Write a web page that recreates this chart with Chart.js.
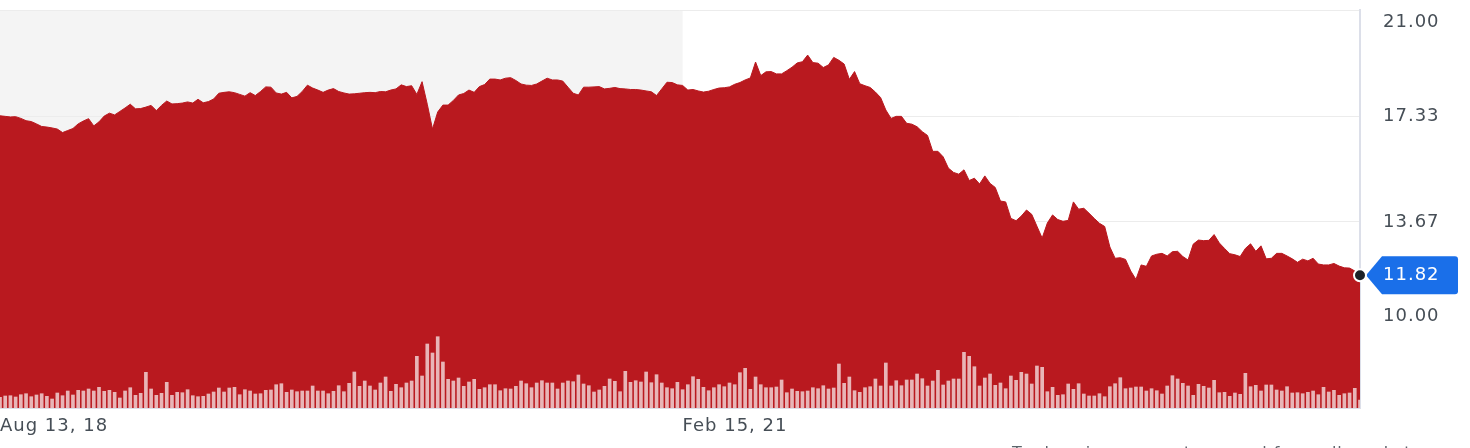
<!DOCTYPE html>
<html>
<head>
<meta charset="utf-8">
<script src="https://cdn.jsdelivr.net/npm/chart.js@4/dist/chart.umd.min.js"></script>
<style>
  html, body { margin: 0; padding: 0; background: #fff; }
  canvas { display: block; }
</style>
</head>
<body>
<canvas id="myChart" width="1470" height="448"></canvas>
<script>
// weekly close prices, Aug 13 2018 -> Aug 14 2023
const price = [
  17.34, 17.32, 17.30, 17.31, 17.25, 17.17, 17.14, 17.06, 16.97, 16.95,
  16.92, 16.88, 16.76, 16.83, 16.90, 17.06, 17.16, 17.24, 16.99, 17.13,
  17.33, 17.43, 17.37, 17.49, 17.61, 17.74, 17.58, 17.59, 17.64, 17.70,
  17.52, 17.70, 17.85, 17.75, 17.76, 17.78, 17.82, 17.78, 17.91, 17.79,
  17.83, 17.92, 18.12, 18.15, 18.17, 18.14, 18.08, 18.02, 18.14, 18.04,
  18.18, 18.34, 18.33, 18.13, 18.09, 18.15, 17.96, 18.01, 18.18, 18.40,
  18.30, 18.23, 18.15, 18.23, 18.28, 18.18, 18.13, 18.09, 18.10, 18.12,
  18.14, 18.15, 18.14, 18.18, 18.17, 18.23, 18.27, 18.41, 18.35, 18.38,
  18.08, 18.52, 17.74, 16.88, 17.47, 17.71, 17.71, 17.87, 18.06, 18.11,
  18.23, 18.15, 18.35, 18.42, 18.61, 18.61, 18.58, 18.64, 18.66, 18.56,
  18.44, 18.40, 18.39, 18.44, 18.54, 18.64, 18.58, 18.58, 18.54, 18.33,
  18.12, 18.06, 18.33, 18.33, 18.34, 18.35, 18.27, 18.29, 18.32, 18.28,
  18.27, 18.25, 18.25, 18.23, 18.20, 18.17, 18.04, 18.27, 18.50, 18.49,
  18.41, 18.39, 18.23, 18.25, 18.20, 18.16, 18.19, 18.25, 18.30, 18.31,
  18.34, 18.43, 18.49, 18.58, 18.65, 19.20, 18.73, 18.86, 18.87, 18.79,
  18.79, 18.90, 19.02, 19.17, 19.21, 19.44, 19.18, 19.16, 19.01, 19.10,
  19.36, 19.26, 19.13, 18.60, 18.87, 18.45, 18.38, 18.32, 18.16, 17.97,
  17.54, 17.25, 17.32, 17.32, 17.08, 17.05, 16.96, 16.79, 16.66, 16.11,
  16.11, 15.92, 15.53, 15.38, 15.32, 15.47, 15.10, 15.18, 14.98, 15.26,
  15.00, 14.86, 14.39, 14.36, 13.79, 13.71, 13.87, 14.08, 13.93, 13.52,
  13.11, 13.63, 13.91, 13.75, 13.69, 13.72, 14.36, 14.11, 14.14, 13.97,
  13.79, 13.62, 13.51, 12.80, 12.41, 12.43, 12.37, 11.97, 11.68, 12.18,
  12.13, 12.49, 12.55, 12.58, 12.49, 12.64, 12.65, 12.47, 12.35, 12.90,
  13.04, 13.02, 13.03, 13.23, 12.94, 12.75, 12.57, 12.53, 12.47, 12.75,
  12.91, 12.65, 12.84, 12.39, 12.41, 12.58, 12.58, 12.49, 12.39, 12.27,
  12.38, 12.32, 12.41, 12.21, 12.18, 12.18, 12.23, 12.14, 12.08, 12.07,
  11.97, 11.82
];

// weekly volume (relative units)
const volume = [
  10.7, 12, 12.3, 11, 13.3, 14.3, 11.3, 13, 14.3, 11.7,
  9, 15, 12.3, 17, 13, 17.7, 17, 19, 17, 20.7,
  16.7, 17.7, 15.7, 10, 17, 20.3, 12.7, 14.7, 35.7, 19,
  12.7, 14.7, 25.7, 12.7, 15.7, 15.3, 18.3, 12.3, 11.3, 11.7,
  14, 16, 20, 16, 20, 20.7, 13.3, 18.3, 17, 14,
  14.3, 17.7, 18, 23.3, 24.3, 15.7, 18, 16.3, 17, 17,
  22, 17, 17, 14.3, 16.7, 22.3, 16.3, 24.7, 36, 21.7,
  27, 22, 18, 25, 31, 16.7, 23.7, 20.3, 25, 27,
  51.7, 32, 64, 55, 71.3, 46, 28.7, 27, 30, 21.7,
  26, 28.7, 18.7, 20.3, 23.3, 23.3, 17.3, 19.3, 19, 21.7,
  27, 24.3, 20.3, 25, 27.3, 25, 25, 19, 25, 27,
  26.3, 33, 24, 22.3, 16, 18, 21.7, 29, 26.7, 16.3,
  36.7, 25.7, 27.3, 26, 36, 25.3, 33.3, 25, 20.3, 19.3,
  25.7, 18.3, 23.3, 31.3, 28.7, 20.7, 17.3, 20.3, 23.3, 21.3,
  25, 23.3, 35.3, 39.7, 18.7, 31, 23.3, 20.3, 20.3, 21,
  28, 15.3, 19, 16.7, 16.3, 17, 20.3, 19.3, 22.3, 19,
  20, 44, 24.7, 31, 17.3, 15.7, 20.3, 21.3, 29, 22,
  45, 22, 27.3, 22.3, 28, 28, 34, 29.3, 22, 27,
  37.7, 23, 27, 29, 29, 55.7, 51.7, 41.3, 22, 30,
  34, 22.7, 25, 19.3, 32, 27.7, 35.7, 34, 24, 42,
  40.7, 16.3, 20.7, 12.7, 13.3, 24, 18.7, 24.3, 14, 12,
  12, 14.3, 11.3, 21.3, 24.3, 30.3, 19.3, 20, 21, 21,
  17, 19.3, 17.3, 14, 22, 32.3, 29, 24.7, 22, 12.7,
  23.7, 21.7, 20, 27.7, 15.3, 15.7, 11.7, 15, 13.7, 34.7,
  21.3, 22.7, 17, 23, 23, 18, 17, 21.3, 15, 15.3,
  14.3, 15.7, 17, 13.3, 20.7, 16, 17.7, 12.7, 14.3, 15,
  19.7, 8
];

const priceTicks = [10, 13.67, 17.33, 21];
const xTickLabels = ['Aug 13, 18', 'Feb 15, 21'];
const shadeEnd = 'Feb 15, 21';
const footnote = 'Trade prices are not sourced from all markets';

const monthNames = ['Jan','Feb','Mar','Apr','May','Jun','Jul','Aug','Sep','Oct','Nov','Dec'];
const firstWeek = new Date(2018, 7, 13);
const weeks = price.map((_, i) => {
  const d = new Date(firstWeek);
  d.setDate(d.getDate() + 7 * i);
  return monthNames[d.getMonth()] + ' ' + d.getDate() + ', ' + String(d.getFullYear()).slice(2);
});

const red = '#b9191f';
const textColor = '#464e56';
const fontFamily = 'DejaVu Sans';

const overlay = {
  id: 'overlay',
  beforeDraw(chart) {
    const { ctx, chartArea: a, scales: { x } } = chart;
    ctx.letterSpacing = '1px';
    ctx.save();
    ctx.fillStyle = '#f4f4f4';
    ctx.fillRect(a.left, a.top, x.getPixelForValue(weeks.indexOf(shadeEnd)) - a.left, a.bottom - a.top);
    ctx.restore();
  },
  afterDraw(chart) {
    const { ctx, chartArea: a, scales: { x, y } } = chart;
    ctx.save();
    ctx.font = '18px "' + fontFamily + '"';
    ctx.textBaseline = 'middle';
    ctx.textAlign = 'left';
    ctx.fillStyle = textColor;
    const n = y.ticks.length;
    y.ticks.forEach((t, i) => {
      let py = y.getPixelForValue(t.value);
      if (i === 0) py -= 12;
      if (i === n - 1) py += 12;
      ctx.fillText(t.value.toFixed(2), a.right + 23, py);
    });

    // last price marker
    const last = price.length - 1;
    const px = x.getPixelForValue(last);
    const py = y.getPixelForValue(price[last]);
    const tipX = px + 6, bodyX = px + 22, right = px + 98, h = 19, r = 3;
    ctx.fillStyle = '#1a6fe9';
    ctx.beginPath();
    ctx.moveTo(tipX, py);
    ctx.lineTo(bodyX, py - h);
    ctx.lineTo(right - r, py - h);
    ctx.quadraticCurveTo(right, py - h, right, py - h + r);
    ctx.lineTo(right, py + h - r);
    ctx.quadraticCurveTo(right, py + h, right - r, py + h);
    ctx.lineTo(bodyX, py + h);
    ctx.closePath();
    ctx.fill();
    ctx.fillStyle = '#fff';
    ctx.fillText(price[last].toFixed(2), a.right + 23, py);

    ctx.beginPath();
    ctx.arc(px, py, 6, 0, Math.PI * 2);
    ctx.fillStyle = '#1d2228';
    ctx.fill();
    ctx.lineWidth = 2;
    ctx.strokeStyle = '#fff';
    ctx.stroke();

    ctx.font = '16px "' + fontFamily + '"';
    ctx.textBaseline = 'top';
    ctx.fillStyle = '#5b636a';
    ctx.fillText(footnote, 1012, 446);
    ctx.restore();
  }
};

Chart.defaults.font.family = fontFamily;

const ctx = document.getElementById('myChart');
const myChart = new Chart(ctx, {
  data: {
    labels: weeks,
    datasets: [
      {
        type: 'bar',
        data: volume,
        yAxisID: 'vol',
        backgroundColor: 'rgba(255,255,255,0.68)',
        borderWidth: 0,
        barThickness: 3,
        order: 0
      },
      {
        type: 'line',
        data: price,
        yAxisID: 'y',
        fill: 'start',
        backgroundColor: red,
        borderColor: red,
        borderWidth: 1,
        pointRadius: 0,
        pointHoverRadius: 0,
        tension: 0,
        order: 1
      }
    ]
  },
  options: {
    responsive: false,
    animation: false,
    layout: { autoPadding: false, padding: { top: 10, left: 0, right: 0, bottom: 0 } },
    plugins: { legend: { display: false }, tooltip: { enabled: false } },
    scales: {
      x: {
        offset: false,
        grid: { display: false, drawTicks: false },
        border: { display: true, color: '#dcdfe9', width: 2 },
        ticks: {
          autoSkip: false,
          maxRotation: 0,
          minRotation: 0,
          align: 'start',
          padding: 8,
          color: textColor,
          font: { size: 18 },
          callback: function (value) {
            const lbl = this.getLabelForValue(value);
            return xTickLabels.includes(lbl) ? lbl : null;
          }
        },
        afterFit: (s) => { s.height = 40; s.paddingLeft = 0; s.paddingRight = 0; }
      },
      y: {
        position: 'right',
        min: 7.23,
        max: 21,
        afterBuildTicks: (s) => { s.ticks = priceTicks.map(v => ({ value: v })); },
        grid: { color: '#ececec', drawTicks: false },
        border: { display: true, color: '#dcdfe9', width: 2 },
        ticks: { display: false },
        afterFit: (s) => { s.width = 110; }
      },
      vol: {
        display: false,
        min: 0,
        max: 398
      }
    }
  },
  plugins: [overlay]
});
</script>
</body>
</html>
